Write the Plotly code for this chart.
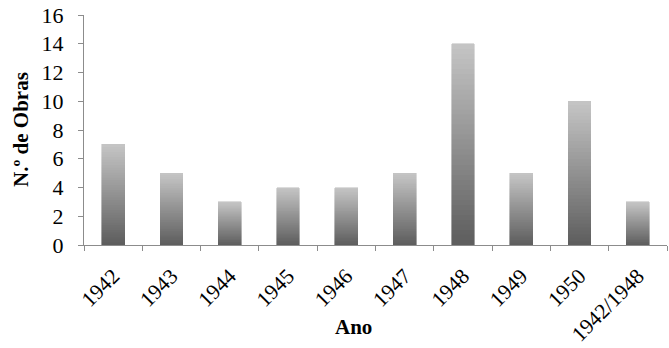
import plotly.graph_objects as go

categories = ["1942", "1943", "1944", "1945", "1946", "1947", "1948", "1949", "1950", "1942/1948"]
values = [7, 5, 3, 4, 4, 5, 14, 5, 10, 3]
y_ticks = [0, 2, 4, 6, 8, 10, 12, 14, 16]

# vertical gradient (dark bottom -> light top) built by stacking slices of each bar
N_SLICES = 40
dark = (94, 94, 94)
light = (196, 196, 196)

fig = go.Figure()
for k in range(N_SLICES):
    t = k / (N_SLICES - 1)
    c = tuple(round(d + (l - d) * t) for d, l in zip(dark, light))
    col = f"rgb{c}"
    fig.add_trace(go.Bar(
        x=categories,
        y=[v / N_SLICES for v in values],
        marker=dict(color=col, line=dict(color=col, width=0.6)),
        hoverinfo="skip",
        showlegend=False,
    ))

font = "Liberation Serif, Times New Roman, serif"
fig.update_layout(
    width=669, height=348,
    margin=dict(l=84, r=2, t=15, b=101),
    barmode="stack",
    bargap=0.61,
    plot_bgcolor="white",
    paper_bgcolor="white",
    font=dict(family=font, size=19, color="black"),
    annotations=[
        dict(text="<b>Ano</b>", xref="paper", yref="paper", x=0.463, y=-0.358,
             xanchor="center", yanchor="middle", showarrow=False,
             font=dict(family=font, size=21, color="black")),
        dict(text="<b>N.º de Obras</b>", xref="paper", yref="paper", x=-0.108, y=0.5,
             xanchor="center", yanchor="middle", textangle=-90, showarrow=False,
             font=dict(family=font, size=21, color="black")),
    ],
)
fig.update_xaxes(
    type="category",
    tickson="boundaries",
    ticks="outside", ticklen=5, tickcolor="#8c8c8c",
    showline=True, linecolor="#8c8c8c", linewidth=1,
    tickangle=-45,
    ticklabelstandoff=9,
    tickfont=dict(family=font, size=21.5),
    showgrid=False,
)
fig.update_yaxes(
    range=[0, 16],
    tickvals=y_ticks,
    ticks="outside", ticklen=5, tickcolor="#8c8c8c",
    showline=True, linecolor="#8c8c8c", linewidth=1,
    ticklabelstandoff=10,
    tickfont=dict(family=font, size=22),
    showgrid=False, zeroline=False,
)
fig.write_html("out.html")
